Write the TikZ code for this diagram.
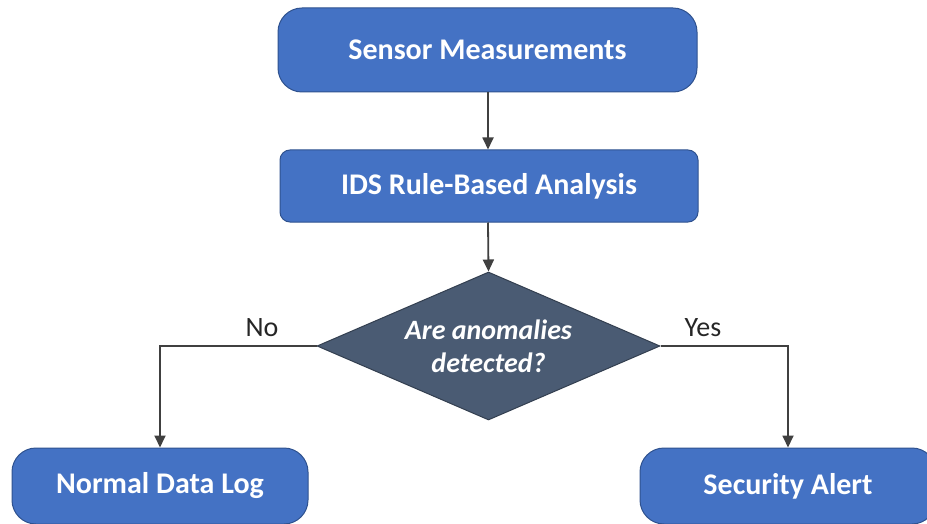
\documentclass[tikz,border=0pt]{standalone}
\usepackage{fontspec}
\setmainfont{Carlito}
\usetikzlibrary{shapes.geometric,arrows.meta}
\definecolor{boxblue}{HTML}{4472C4}
\definecolor{boxedge}{HTML}{2F528F}
\definecolor{slate}{HTML}{4A5B73}
\definecolor{slateedge}{HTML}{333F50}
\definecolor{linegray}{HTML}{404040}
\begin{document}
\begin{tikzpicture}[x=1pt,y=-1pt,
  blockbox/.style={draw=boxedge, line width=1pt, fill=boxblue, text=white,
    font=\fontsize{30}{36}\selectfont\bfseries, inner sep=0pt, anchor=center},
  decisionbox/.style={diamond, draw=slateedge, line width=1pt, fill=slate, text=white,
    font=\fontsize{28}{33}\selectfont\bfseries\itshape, align=center, inner sep=0pt,
    minimum width=343pt, minimum height=148pt, aspect=2.32},
  flow/.style={draw=linegray, line width=1.8pt, -{Triangle[length=12pt,width=11pt]}},
  lbl/.style={font=\fontsize{28}{33}\selectfont, text=black!85}
]
\useasboundingbox (0,0) rectangle (927,524);
\fill[white] (0,0) rectangle (927,524);
\node[blockbox, rounded corners=24pt, minimum width=419pt, minimum height=84pt] (sensor) at (487.5,50) {Sensor Measurements};
\node[blockbox, rounded corners=10pt, minimum width=418pt, minimum height=72pt] (ids) at (489,186) {IDS Rule-Based Analysis};
\node[decisionbox] (dec) at (488.5,346) {Are anomalies\\detected?};
\node[blockbox, rounded corners=24pt, minimum width=296pt, minimum height=76pt] (normal) at (160,486) {Normal Data Log};
\node[blockbox, rounded corners=24pt, minimum width=296pt, minimum height=76pt] (alert) at (788,486) {Security Alert};
\draw[flow] (sensor.south -| 488,0) -- (ids.north -| 488,0);
\draw[flow] (ids.south -| 488,0) -- (dec.north);
\draw[flow] (dec.west) -| (normal.north);
\draw[flow] (dec.east) -| (alert.north);
\node[lbl] (no) at (262,328) {No};
\node[lbl] (yes) at (703,328) {Yes};
\end{tikzpicture}
\end{document}
